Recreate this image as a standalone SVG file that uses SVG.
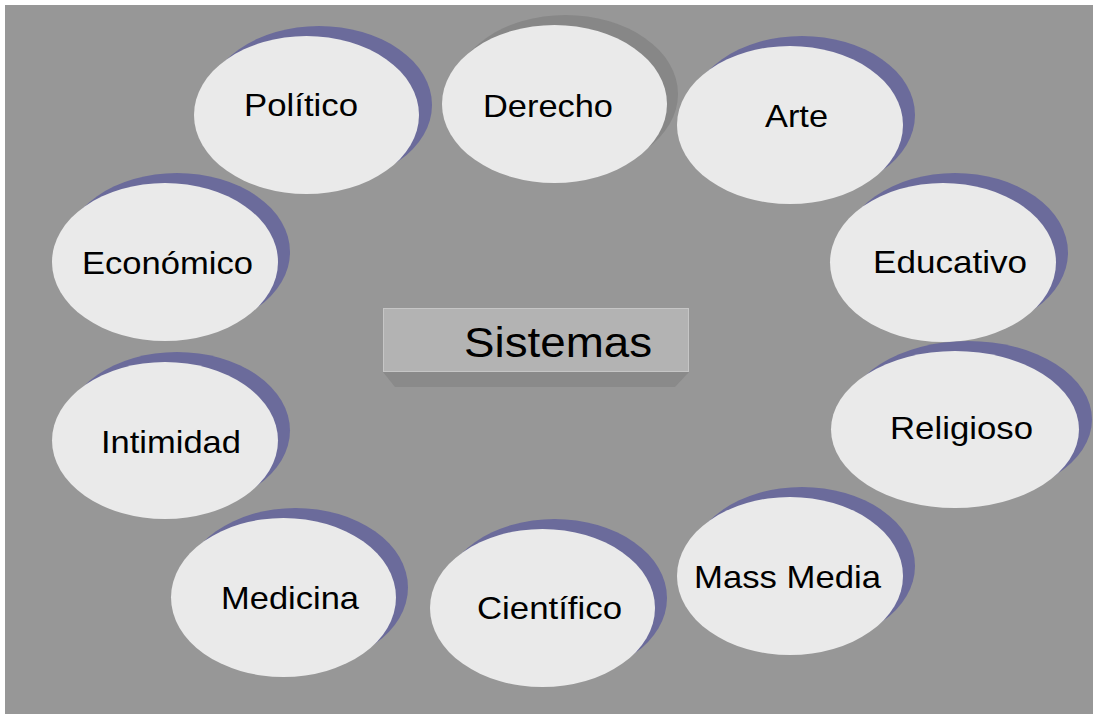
<svg xmlns="http://www.w3.org/2000/svg" width="1093" height="714" viewBox="0 0 1093 714">
<style>
.sh{fill:#6B6B9B}
.shg{fill:#878787}
.el{fill:#EAEAEA}
.t{font-family:"Liberation Sans",Arial,sans-serif;font-size:32px;fill:#000;text-anchor:middle}
</style>
<rect x="0" y="0" width="1093" height="714" fill="#FFFFFF"/>
<rect x="5" y="5" width="1088" height="709" fill="#979797"/>
<g id="politico">
<ellipse class="sh" cx="319" cy="105" rx="113" ry="79"/>
<ellipse class="el" cx="306.5" cy="115" rx="112.5" ry="79"/>
<text class="t" x="301" y="116" textLength="114" lengthAdjust="spacingAndGlyphs">Político</text>
</g>
<g id="derecho">
<ellipse class="shg" cx="565.5" cy="94" rx="112.5" ry="79"/>
<ellipse class="el" cx="554.5" cy="104" rx="112.5" ry="79"/>
<text class="t" x="548" y="117" textLength="130" lengthAdjust="spacingAndGlyphs">Derecho</text>
</g>
<g id="arte">
<ellipse class="sh" cx="802" cy="115" rx="113" ry="79"/>
<ellipse class="el" cx="790" cy="125" rx="113" ry="79"/>
<text class="t" x="796.5" y="127" textLength="63" lengthAdjust="spacingAndGlyphs">Arte</text>
</g>
<g id="educativo">
<ellipse class="sh" cx="955" cy="252.5" rx="113" ry="79.5"/>
<ellipse class="el" cx="943" cy="262.5" rx="113" ry="79.5"/>
<text class="t" x="950" y="273" textLength="154" lengthAdjust="spacingAndGlyphs">Educativo</text>
</g>
<g id="religioso">
<ellipse class="sh" cx="968" cy="419.5" rx="124" ry="78.5"/>
<ellipse class="el" cx="955" cy="429.5" rx="124" ry="78.5"/>
<text class="t" x="961.5" y="439" textLength="143" lengthAdjust="spacingAndGlyphs">Religioso</text>
</g>
<g id="massmedia">
<ellipse class="sh" cx="802" cy="566" rx="113" ry="79"/>
<ellipse class="el" cx="790" cy="576" rx="113" ry="79"/>
<text class="t" x="787.5" y="588" textLength="187" lengthAdjust="spacingAndGlyphs">Mass Media</text>
</g>
<g id="cientifico">
<ellipse class="sh" cx="554.5" cy="598" rx="112.5" ry="79"/>
<ellipse class="el" cx="542.5" cy="608" rx="112.5" ry="79"/>
<text class="t" x="549.5" y="619" textLength="145" lengthAdjust="spacingAndGlyphs">Científico</text>
</g>
<g id="medicina">
<ellipse class="sh" cx="295.5" cy="587.5" rx="112.5" ry="79.5"/>
<ellipse class="el" cx="283.5" cy="597.5" rx="112.5" ry="79.5"/>
<text class="t" x="290" y="609" textLength="138" lengthAdjust="spacingAndGlyphs">Medicina</text>
</g>
<g id="intimidad">
<ellipse class="sh" cx="177" cy="430.5" rx="113" ry="78.5"/>
<ellipse class="el" cx="165" cy="440.5" rx="113" ry="78.5"/>
<text class="t" x="171" y="453" textLength="140" lengthAdjust="spacingAndGlyphs">Intimidad</text>
</g>
<g id="economico">
<ellipse class="sh" cx="177" cy="252" rx="113" ry="79"/>
<ellipse class="el" cx="165" cy="262" rx="113" ry="79"/>
<text class="t" x="167.5" y="274" textLength="171" lengthAdjust="spacingAndGlyphs">Económico</text>
</g>
<g id="sistemas">
<polygon points="383,372 689,372 675,387 395,387" fill="#8A8A8A"/>
<rect x="383.5" y="308.5" width="305" height="63" fill="#B3B3B3" stroke="#C6C6C6" stroke-width="1"/>
<text x="558" y="357" font-family="Liberation Sans,Arial,sans-serif" font-size="42" fill="#000" text-anchor="middle" textLength="188" lengthAdjust="spacingAndGlyphs">Sistemas</text>
</g>
<g id="connectors"></g>
</svg>
